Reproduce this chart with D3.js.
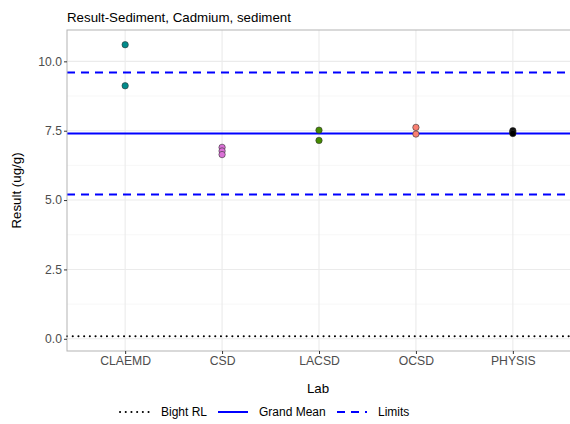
<!DOCTYPE html>
<html><head><meta charset="utf-8">
<script src="https://cdn.jsdelivr.net/npm/d3@7"></script>
<style>body{margin:0;background:#fff;} svg{display:block;font-family:"Liberation Sans",Arial,sans-serif;}</style>
</head><body><svg id="c" width="570" height="424"></svg>
<script>
const labs = ["CLAEMD","CSD","LACSD","OCSD","PHYSIS"];
const labColors = ["#008B8B","#DA70D6","#458B00","#FA8072","#000000"];
const pointLab = ["CLAEMD","CLAEMD","CSD","CSD","CSD","LACSD","LACSD","OCSD","OCSD","PHYSIS","PHYSIS","PHYSIS"];
const pointVal = [10.6,9.12,6.9,6.77,6.64,7.52,7.15,7.62,7.38,7.5,7.45,7.4];
const yTicks = [0,2.5,5,7.5,10];
const yMinor = [1.25,3.75,6.25,8.75,11.25];
const bightRL = 0.09;
const grandMean = 7.4;
const limits = [5.2,9.6];
const legendLabels = ["Bight RL","Grand Mean","Limits"];

const svg = d3.select("#c");
const L=67, R=571, T=30, B=351;
const x = d3.scalePoint().domain(labs).range([L,R]).padding(0.6);
const y = d3.scaleLinear().domain([-0.44,11.13]).range([B,T]);
const col = d3.scaleOrdinal().domain(labs).range(labColors);

svg.append("text").attr("x",L).attr("y",22).attr("font-size",13.3).attr("fill","#000").text("Result-Sediment, Cadmium, sediment");

const g = svg.append("g");
g.selectAll(".mn").data(yMinor.filter(v=>y(v)>T)).join("line")
 .attr("x1",L).attr("x2",R).attr("y1",d=>y(d)).attr("y2",d=>y(d)).attr("stroke","#f2f2f2").attr("stroke-width",0.6);
g.selectAll(".mj").data(yTicks).join("line")
 .attr("x1",L).attr("x2",R).attr("y1",d=>y(d)).attr("y2",d=>y(d)).attr("stroke","#ebebeb").attr("stroke-width",1.1);
g.selectAll(".vx").data(labs).join("line")
 .attr("x1",d=>x(d)).attr("x2",d=>x(d)).attr("y1",T).attr("y2",B).attr("stroke","#ebebeb").attr("stroke-width",1.1);

g.append("line").attr("x1",L).attr("x2",R).attr("y1",y(bightRL)).attr("y2",y(bightRL))
 .attr("stroke","#000").attr("stroke-width",2).attr("stroke-dasharray","0.1 5.6").attr("stroke-linecap","round");
g.append("line").attr("x1",L).attr("x2",R).attr("y1",y(grandMean)).attr("y2",y(grandMean))
 .attr("stroke","#0000FF").attr("stroke-width",2);
g.selectAll(".lim").data(limits).join("line")
 .attr("x1",L).attr("x2",R).attr("y1",d=>y(d)).attr("y2",d=>y(d))
 .attr("stroke","#0000FF").attr("stroke-width",2).attr("stroke-dasharray","8 6");

g.selectAll(".pt").data(pointVal).join("circle")
 .attr("cx",(d,i)=>x(pointLab[i])).attr("cy",d=>y(d)).attr("r",3.2)
 .attr("fill",(d,i)=>col(pointLab[i])).attr("stroke","#333").attr("stroke-width",0.6);

svg.append("rect").attr("x",L).attr("y",T).attr("width",R-L).attr("height",B-T).attr("fill","none").attr("stroke","#b3b3b3").attr("stroke-width",1);

const ya = svg.append("g").attr("transform",`translate(${L},0)`).call(d3.axisLeft(y).tickValues(yTicks).tickFormat(d3.format(".1f")).tickSize(3).tickPadding(2));
ya.select(".domain").remove();
ya.selectAll("line").attr("stroke","#333");
ya.selectAll("text").attr("font-size",12.2).attr("fill","#4d4d4d").attr("font-family","Liberation Sans, Arial, sans-serif");
const xa = svg.append("g").attr("transform",`translate(0,${B})`).call(d3.axisBottom(x).tickSize(3).tickPadding(2));
xa.select(".domain").remove();
xa.selectAll("line").attr("stroke","#333");
xa.selectAll("text").attr("font-size",12.2).attr("fill","#4d4d4d").attr("font-family","Liberation Sans, Arial, sans-serif");

svg.append("text").attr("x",(L+R)/2-1).attr("y",393).attr("text-anchor","middle").attr("font-size",13.3).text("Lab");
svg.append("text").attr("transform",`translate(21,${(T+B)/2}) rotate(-90)`).attr("text-anchor","middle").attr("font-size",13.3).text("Result (ug/g)");

const lg = svg.append("g");
const keyX = [120,218,337], ly = 412;
const styles = [
 {stroke:"#000",dash:"0.1 5.6",cap:"round"},
 {stroke:"#0000FF",dash:null,cap:"butt"},
 {stroke:"#0000FF",dash:"8 6",cap:"butt"}];
legendLabels.forEach((t,i)=>{
  lg.append("line").attr("x1",keyX[i]).attr("x2",keyX[i]+30).attr("y1",ly).attr("y2",ly)
   .attr("stroke",styles[i].stroke).attr("stroke-width",2).attr("stroke-dasharray",styles[i].dash).attr("stroke-linecap",styles[i].cap);
  lg.append("text").attr("x",keyX[i]+41).attr("y",ly+4).attr("font-size",12).attr("fill","#000").text(t);
});
</script></body></html>
